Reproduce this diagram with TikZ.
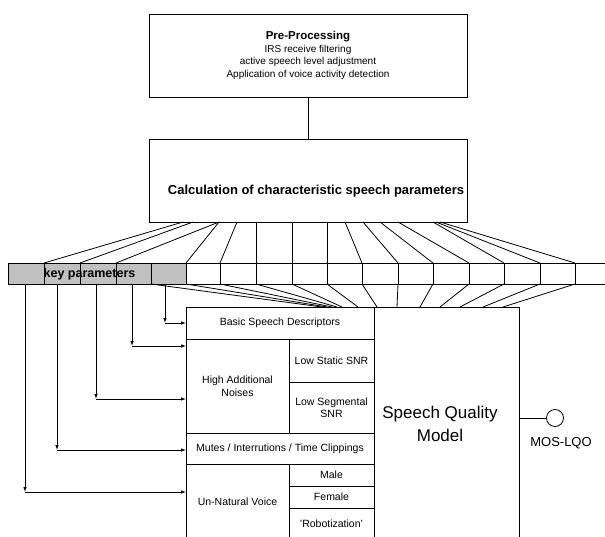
\documentclass[tikz,border=0pt]{standalone}
\usepackage{fontspec}
\setmainfont{Liberation Sans}
\usetikzlibrary{calc,arrows.meta}
\definecolor{kgray}{RGB}{192,192,192}
\begin{document}
\begin{tikzpicture}[x=1pt,y=-1pt, line width=0.8pt,
  box/.style={draw, inner sep=0pt, outer sep=0pt, align=center, font=\fontsize{10.5}{12.5}\selectfont},
  cell/.style={draw, inner sep=0pt, outer sep=0pt, minimum height=21pt, anchor=north west},
  arr/.style={-{Latex[length=5pt,width=3.5pt]}}]
\useasboundingbox (0,0) rectangle (605,536);
\clip (0,0) rectangle (605,536);

% top boxes
\node[box, minimum width=318pt, minimum height=83pt, font=\fontsize{10}{12.7}\selectfont] (pre) at (308,55.5)
  {{\bfseries\fontsize{11.5}{12.7}\selectfont Pre-Processing}\\IRS receive filtering\\active speech level adjustment\\Application of voice activity detection};
\node[box, minimum width=318pt, minimum height=83pt] (calc) at (308,180.5) {};
\node[font=\bfseries\fontsize{13}{15}\selectfont] (calctext) at (316,191) {Calculation of characteristic speech parameters};
\draw (pre.south) -- (calc.north);

% key parameter strip
\foreach \i/\a/\b in {1/8/44,2/44/80,3/80/116,4/116/151,5/151/186}
  \node[cell, fill=kgray, minimum width={(\b-\a)*1pt}] (k\i) at (\a,263) {};
\foreach \i/\a/\b in {6/186/220,7/220/256,8/256/292,9/292/327,10/327/362,11/362/398,12/398/433,13/433/469,14/469/504,15/504/540,16/540/575,17/575/612}
  \node[cell, minimum width={(\b-\a)*1pt}] (k\i) at (\a,263) {};
\node[font=\bfseries\fontsize{12.5}{14}\selectfont] (keytext) at (89.5,274) {key parameters};

% upper fan
\foreach \u/\k in {183/2,193/3,219/4,219/6,237/7,256/8,292/9,327/10,345/11,363/12,380/13,398/14,433/15,436/16,440/17}
  \draw ($(calc.south west)+(\u-149,0)$) -- (k\k.north west);

% lower block
\node[box, minimum width=188pt, minimum height=32pt] (basic) at (280,323) {Basic Speech Descriptors};
\node[box, minimum width=103pt, minimum height=94pt] (high) at (237.5,386) {High Additional\\Noises};
\node[box, minimum width=85pt, minimum height=43pt] (lowstatic) at (331.5,360.5) {Low Static SNR};
\node[box, minimum width=85pt, minimum height=51pt] (lowseg) at (331.5,407.5) {Low Segmental\\SNR};
\node[box, minimum width=188pt, minimum height=31pt] (mutes) at (280,448.5) {Mutes / Interrutions / Time Clippings};
\node[box, minimum width=103pt, minimum height=76pt] (unnat) at (237.5,502) {Un-Natural Voice};
\node[box, minimum width=85pt, minimum height=22pt] (male) at (331.5,475) {Male};
\node[box, minimum width=85pt, minimum height=22pt] (female) at (331.5,497) {Female};
\node[box, minimum width=85pt, minimum height=32pt] (robot) at (331.5,524) {'Robotization'};
\node[box, minimum width=145pt, minimum height=233pt] (model) at (446.5,423.5) {};
\node[align=center, font=\fontsize{17}{23}\selectfont] (modeltext) at (440,423.5) {Speech Quality\\Model};

% lower fan
\foreach \k/\e in {5/322,6/327,7/332,8/337,9/342,10/358,11/377,12/397,13/420,14/440,15/460,16/483,17/503}
  \draw (k\k.south west) -- ($(basic.north west)+(\e-186,0)$);

% arrows from key parameters
\coordinate (t5) at (basic.west);
\coordinate (t4) at ($(high.north west)+(0,7)$);
\coordinate (t3) at ($(high.north west)+(0,60)$);
\coordinate (t2) at ($(mutes.west)+(0,1.5)$);
\coordinate (t1) at ($(unnat.north west)+(0,28)$);
\coordinate (s5) at ($(k5.south west)+(14,0)$);
\coordinate (s4) at ($(k4.south west)+(16,0)$);
\coordinate (s3) at ($(k3.south west)+(16,0)$);
\coordinate (s2) at ($(k2.south west)+(13,0)$);
\coordinate (s1) at ($(k1.south west)+(17,0)$);
\foreach \i in {1,...,5} {
  \draw[arr] (s\i) -- (s\i |- t\i);
  \draw[arr] (s\i |- t\i) -- (t\i);
}

% output
\node[draw, circle, minimum size=17pt, inner sep=0pt] (mos) at (555,418) {};
\draw (mos.west -| model.east) -- (mos.west);
\node[font=\fontsize{13}{15}\selectfont] (mostext) at (561,443) {MOS-LQO};
\end{tikzpicture}
\end{document}
